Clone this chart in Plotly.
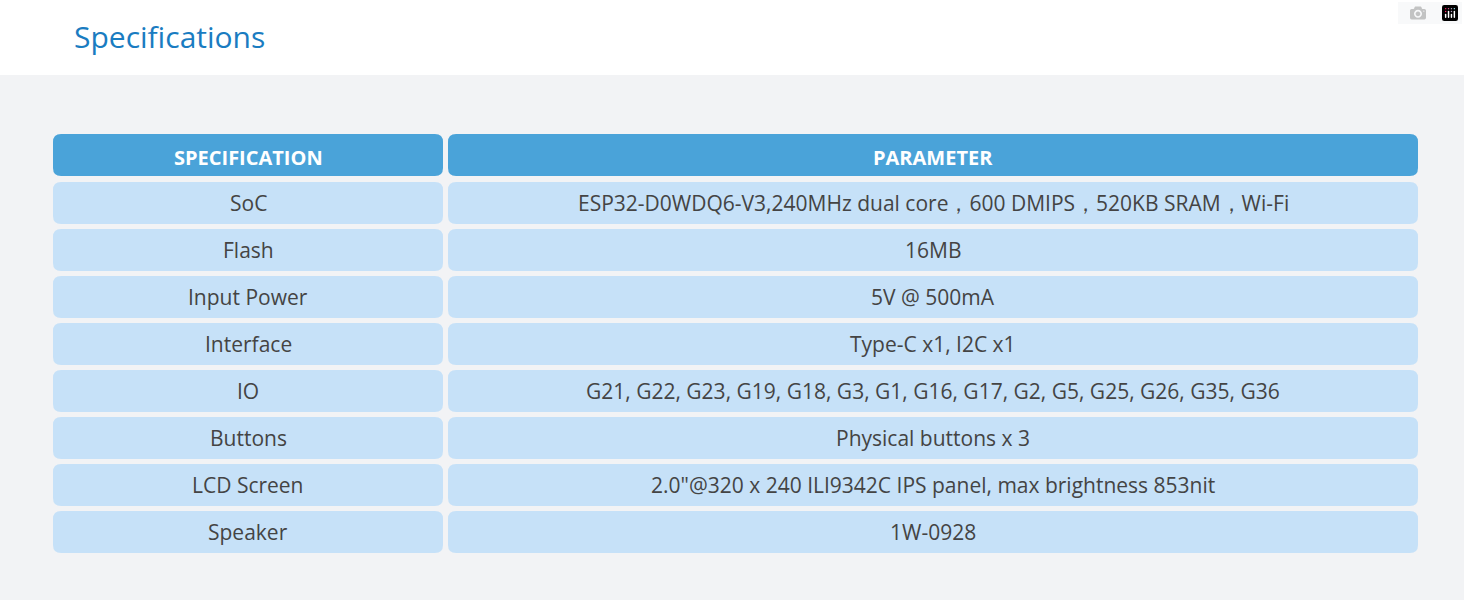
import plotly.graph_objects as go

W, H = 1464, 600

title = "Specifications"
headers = ["SPECIFICATION", "PARAMETER"]
specs = ["SoC", "Flash", "Input Power", "Interface", "IO", "Buttons", "LCD Screen", "Speaker"]
params = [
    "ESP32-D0WDQ6-V3,240MHz dual core，600 DMIPS，520KB SRAM，Wi-Fi",
    "16MB",
    "5V @ 500mA",
    "Type-C x1, I2C x1",
    "G21, G22, G23, G19, G18, G3, G1, G16, G17, G2, G5, G25, G26, G35, G36",
    "Physical buttons x 3",
    "2.0\"@320 x 240 ILI9342C IPS panel, max brightness 853nit",
    "1W-0928",
]

col_x = [(53, 443), (448, 1418)]
header_y = (134, 176)
row_top, row_h, row_step = 182, 42, 47


def rrect(x0, y0, x1, y1, r=8):
    return (f"M{x0+r},{y0} L{x1-r},{y0} Q{x1},{y0} {x1},{y0+r} "
            f"L{x1},{y1-r} Q{x1},{y1} {x1-r},{y1} L{x0+r},{y1} "
            f"Q{x0},{y1} {x0},{y1-r} L{x0},{y0+r} Q{x0},{y0} {x0+r},{y0} Z")


shapes = [
    dict(type="rect", x0=0, x1=W, y0=0, y1=75, fillcolor="white", line_width=0, layer="below"),
]
ann = [dict(x=72, y=36, text=title, showarrow=False, xanchor="left",
            font=dict(size=30, color="#1a7cc1", family="Open Sans"))]

for (x0, x1), h in zip(col_x, headers):
    shapes.append(dict(type="path", path=rrect(x0, header_y[0], x1, header_y[1]),
                       fillcolor="#4aa3d9", line_width=0))
    ann.append(dict(x=(x0 + x1) / 2, y=(header_y[0] + header_y[1]) / 2 + 2, text=f"<b>{h}</b>",
                    showarrow=False, font=dict(size=20, color="white", family="Open Sans")))

for i, (s, p) in enumerate(zip(specs, params)):
    y0 = row_top + i * row_step
    y1 = y0 + row_h
    for (x0, x1), t in zip(col_x, [s, p]):
        shapes.append(dict(type="path", path=rrect(x0, y0, x1, y1),
                           fillcolor="#c6e1f8", line_width=0))
        ann.append(dict(x=(x0 + x1) / 2, y=(y0 + y1) / 2, text=t, showarrow=False,
                        font=dict(size=21, color="#444444", family="Open Sans")))

fig = go.Figure()
fig.update_layout(
    width=W, height=H, margin=dict(l=0, r=0, t=0, b=0),
    paper_bgcolor="#f2f3f5", plot_bgcolor="#f2f3f5",
    xaxis=dict(range=[0, W], visible=False, fixedrange=True),
    yaxis=dict(range=[H, 0], visible=False, fixedrange=True),
    shapes=shapes, annotations=ann, showlegend=False,
)
fig.write_html("out.html", post_script="document.body.style.margin='0';")
